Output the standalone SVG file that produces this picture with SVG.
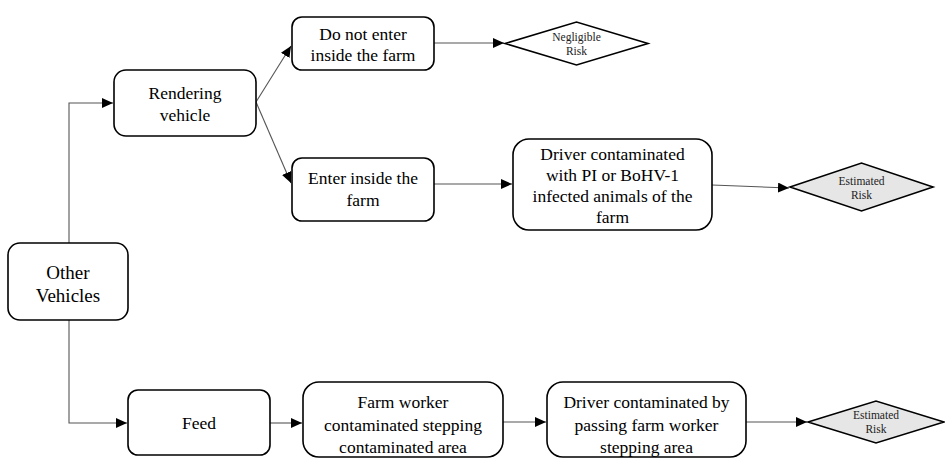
<svg xmlns="http://www.w3.org/2000/svg" width="945" height="459" viewBox="0 0 945 459">
  <style>
    .box { fill: #ffffff; stroke: #000000; stroke-width: 1.6; }
    .risk { stroke: #000000; stroke-width: 1.6; }
    .neg { fill: #ffffff; }
    .est { fill: #e6e6e6; }
    .lbl { font-family: 'Liberation Serif', Tinos, 'Nimbus Roman', 'Times New Roman', 'DejaVu Serif', serif; font-size: 17.5px; fill: #000000; text-anchor: middle; }
    .big { font-size: 19px; }
    .small { font-size: 11.5px; fill: #222222; }
    .edge { fill: none; stroke: #555555; stroke-width: 1.1; marker-end: url(#arrow); }
  </style>
  <defs>
    <marker id="arrow" markerUnits="userSpaceOnUse" markerWidth="12" markerHeight="10" refX="11" refY="5" orient="auto">
      <path d="M0,0 L11,5 L0,10 Z" fill="#000000"/>
    </marker>
  </defs>
  <rect width="945" height="459" fill="#ffffff"/>

  <g id="connectors">
    <path class="edge" d="M69,243 V103 H113"/>
    <path class="edge" d="M69,320 V423 H127"/>
    <path class="edge" d="M256,102 L291,46"/>
    <path class="edge" d="M256,102 L291,183"/>
    <path class="edge" d="M434,43 H504"/>
    <path class="edge" d="M434,184 H512"/>
    <path class="edge" d="M712,185 L789,188"/>
    <path class="edge" d="M270,423 H302"/>
    <path class="edge" d="M503,422 H546"/>
    <path class="edge" d="M746,422 H807"/>
  </g>

  <g id="other-vehicles">
    <rect class="box" x="8" y="243" width="120" height="77" rx="12"/>
    <text class="lbl big" x="68" y="279">Other</text>
    <text class="lbl big" x="68" y="302">Vehicles</text>
  </g>

  <g id="rendering-vehicle">
    <rect class="box" x="114" y="70" width="142" height="66" rx="12"/>
    <text class="lbl" x="185" y="99">Rendering</text>
    <text class="lbl" x="185" y="121">vehicle</text>
  </g>

  <g id="do-not-enter">
    <rect class="box" x="292" y="17" width="142" height="53" rx="10"/>
    <text class="lbl" x="363" y="40">Do not enter</text>
    <text class="lbl" x="363" y="61">inside the farm</text>
  </g>

  <g id="negligible-risk">
    <polygon class="risk neg" points="505,43.5 576.5,22 648,43.5 576.5,65"/>
    <text class="lbl small" x="576.5" y="41">Negligible</text>
    <text class="lbl small" x="576.5" y="55">Risk</text>
  </g>

  <g id="enter-inside">
    <rect class="box" x="292" y="158" width="142" height="63" rx="10"/>
    <text class="lbl" x="363" y="184">Enter inside the</text>
    <text class="lbl" x="363" y="206">farm</text>
  </g>

  <g id="driver-pi-bohv">
    <rect class="box" x="513" y="139" width="199" height="91" rx="16"/>
    <text class="lbl" x="612.5" y="160">Driver contaminated</text>
    <text class="lbl" x="612.5" y="181">with PI or BoHV-1</text>
    <text class="lbl" x="612.5" y="202">infected animals of the</text>
    <text class="lbl" x="612.5" y="223">farm</text>
  </g>

  <g id="estimated-risk-1">
    <polygon class="risk est" points="790,187 861.5,163 933,187 861.5,211"/>
    <text class="lbl small" x="861.5" y="185">Estimated</text>
    <text class="lbl small" x="861.5" y="199">Risk</text>
  </g>

  <g id="feed">
    <rect class="box" x="128" y="390" width="142" height="65" rx="10"/>
    <text class="lbl" x="199" y="429">Feed</text>
  </g>

  <g id="farm-worker">
    <rect class="box" x="303" y="382" width="200" height="75" rx="16"/>
    <text class="lbl" x="403" y="408">Farm worker</text>
    <text class="lbl" x="403" y="431">contaminated stepping</text>
    <text class="lbl" x="403" y="453">contaminated area</text>
  </g>

  <g id="driver-passing-worker">
    <rect class="box" x="547" y="382" width="199" height="75" rx="16"/>
    <text class="lbl" x="646.5" y="408">Driver contaminated by</text>
    <text class="lbl" x="646.5" y="431">passing farm worker</text>
    <text class="lbl" x="646.5" y="453">stepping area</text>
  </g>

  <g id="estimated-risk-2">
    <polygon class="risk est" points="808,422 876,401 944,422 876,443"/>
    <text class="lbl small" x="876" y="419">Estimated</text>
    <text class="lbl small" x="876" y="433">Risk</text>
  </g>
</svg>
